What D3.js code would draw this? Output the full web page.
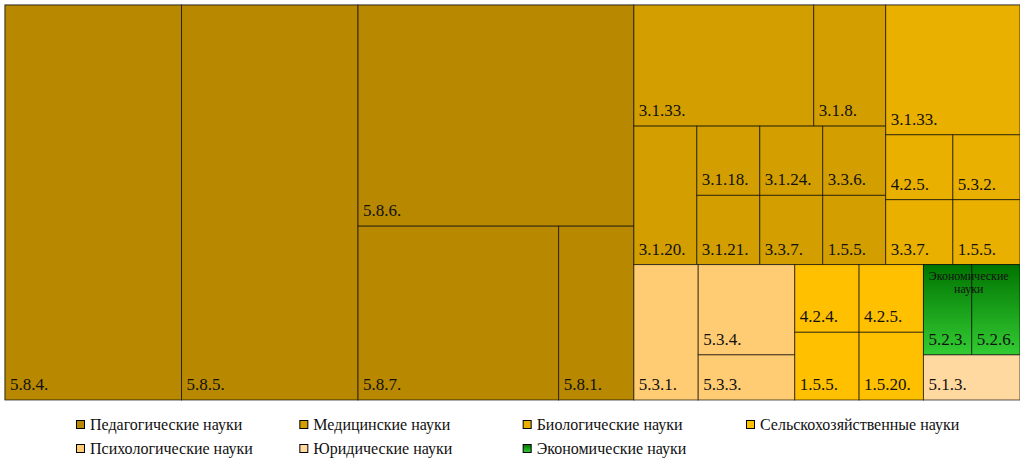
<!DOCTYPE html>
<html>
<head>
<meta charset="utf-8">
<script src="https://cdn.jsdelivr.net/npm/d3@7"></script>
<style>
  body { margin: 0; background: #fff; }
  svg { display: block; font-family: "Liberation Serif", "DejaVu Serif", serif; }
</style>
</head>
<body>
<div id="chart"></div>
<script>
const width = 1020;
const height = 459;

const margin = {
  top: 5,
  left: 5,
  right: 0,
  bottom: 59
};

// groups in legend order
const groups = [
  "Педагогические науки",
  "Медицинские науки",
  "Биологические науки",
  "Сельскохозяйственные науки",
  "Психологические науки",
  "Юридические науки",
  "Экономические науки"
];
const groupColors = ["#b78800", "#d39f00", "#e9b000", "#ffc000", "#ffcc73", "#ffd9a0", "url(#ecoGrad)"];

const pedCodes = ["5.8.4.", "5.8.5.", "5.8.6.", "5.8.7.", "5.8.1."];
const pedValues = [16, 16, 14, 8, 3];
const medCodes = ["3.1.33.", "3.1.8.", "3.1.20.", "3.1.18.", "3.1.21.", "3.1.24.", "3.3.6.", "3.3.7.", "1.5.5."];
const medValues = [5, 2, 2, 1, 1, 1, 1, 1, 1];
const bioCodes = ["3.1.33.", "4.2.5.", "3.3.7.", "5.3.2.", "1.5.5."];
const bioValues = [4, 1, 1, 1, 1];
const agroCodes = ["4.2.4.", "4.2.5.", "1.5.5.", "1.5.20."];
const agroValues = [1, 1, 1, 1];
const psyCodes = ["5.3.1.", "5.3.4.", "5.3.3."];
const psyValues = [2, 2, 1];
const lawCodes = ["5.1.3."];
const lawValues = [1];
const ecoCodes = ["5.2.3.", "5.2.6."];
const ecoValues = [1, 1];

const groupCodes = [pedCodes, medCodes, bioCodes, agroCodes, psyCodes, lawCodes, ecoCodes];
const groupValues = [pedValues, medValues, bioValues, agroValues, psyValues, lawValues, ecoValues];

// group headers that are shown over the cells
const headerGroups = ["Экономические науки"];

const data = {
  name: "root",
  children: groups.map((g, i) => ({
    name: g,
    color: groupColors[i],
    children: groupCodes[i].map((c, j) => ({ name: c, value: groupValues[i][j] }))
  }))
};

// squarify-like rows, aiming at cells a bit taller than wide (w/h ~ 0.8)
function tileAspect(rho) {
  const target = Math.log(rho);
  function score(items, sum, value, dx, dy, dice) {
    let worst = 0;
    const t = (dice ? dy : dx) * sum / value;
    items.forEach(n => {
      const len = (dice ? dx : dy) * n.value / sum;
      const w = dice ? len : t;
      const h = dice ? t : len;
      worst = Math.max(worst, Math.abs(Math.log(w / h) - target));
    });
    return worst;
  }
  return function(parent, x0, y0, x1, y1) {
    const nodes = parent.children;
    let value = parent.value;
    let i0 = 0;
    while (i0 < nodes.length) {
      const dx = x1 - x0, dy = y1 - y0;
      const dice = dx < dy;
      let best = Infinity, sum = 0, i1 = i0;
      for (let i = i0; i < nodes.length; i++) {
        const s = sum + nodes[i].value;
        const sc = score(nodes.slice(i0, i + 1), s, value, dx, dy, dice);
        if (sc > best) break;
        best = sc;
        sum = s;
        i1 = i + 1;
      }
      const row = { value: sum, children: nodes.slice(i0, i1) };
      if (dice) {
        const yk = i1 >= nodes.length ? y1 : y0 + dy * sum / value;
        d3.treemapDice(row, x0, y0, x1, yk);
        y0 = yk;
      } else {
        const xk = i1 >= nodes.length ? x1 : x0 + dx * sum / value;
        d3.treemapSlice(row, x0, y0, xk, y1);
        x0 = xk;
      }
      value -= sum;
      i0 = i1;
    }
  };
}

const root = d3.hierarchy(data)
  .sum(d => d.value || 0)
  .sort((a, b) => b.value - a.value);

d3.treemap()
  .tile(tileAspect(0.8))
  .size([width - margin.left - margin.right, height - margin.top - margin.bottom])(root);

const svg = d3.select("#chart")
  .append("svg")
  .attr("width", width)
  .attr("height", height);

const defs = svg.append("defs");
const grad = defs.append("linearGradient")
  .attr("id", "ecoGrad")
  .attr("x1", 0).attr("y1", 0)
  .attr("x2", 0).attr("y2", 1);
grad.append("stop").attr("offset", "0%").attr("stop-color", "#007400");
grad.append("stop").attr("offset", "100%").attr("stop-color", "#33cc33");

// thin frame on the left / top
svg.append("path")
  .attr("d", `M${margin.left - 0.5},${height - margin.bottom}V${margin.top - 0.5}H${width}`)
  .attr("fill", "none")
  .attr("stroke", "#c8c8c8");

const g = svg.append("g")
  .attr("transform", `translate(${margin.left},${margin.top})`);

const leaves = g.selectAll("g.leaf")
  .data(root.leaves())
  .join("g")
  .attr("class", "leaf");

leaves.append("rect")
  .attr("x", d => d.x0)
  .attr("y", d => d.y0)
  .attr("width", d => d.x1 - d.x0)
  .attr("height", d => d.y1 - d.y0)
  .attr("fill", d => d.parent.data.color)
  .attr("stroke", "#000")
  .attr("stroke-opacity", 0.65)
  .attr("stroke-width", 1);

leaves.append("text")
  .attr("x", d => d.x0 + 5)
  .attr("y", d => d.y1 - 10)
  .attr("font-size", 17)
  .attr("fill", "#111")
  .text(d => d.data.name);

// headers
const heads = g.selectAll("text.header")
  .data(root.children.filter(d => headerGroups.includes(d.data.name)))
  .join("text")
  .attr("class", "header")
  .attr("x", d => (d.x0 + d.x1) / 2 - 3)
  .attr("y", d => d.y0 + 15)
  .attr("text-anchor", "middle")
  .attr("font-size", 12)
  .attr("fill", "#111");

heads.selectAll("tspan")
  .data(d => d.data.name.split(" ").map(w => ({ w, x: (d.x0 + d.x1) / 2 - 3 })))
  .join("tspan")
  .attr("x", d => d.x)
  .attr("dy", (d, i) => i ? 13 : 0)
  .text(d => d.w);

// legend
const legendX = d3.scalePoint().domain([0, 1, 2, 3]).range([76, 746]);
const legendY = d3.scalePoint().domain([0, 1]).range([420, 444]);

const legend = svg.append("g")
  .selectAll("g")
  .data(groups)
  .join("g")
  .attr("transform", (d, i) => `translate(${legendX(i % 4)},${legendY(Math.floor(i / 4))})`);

legend.append("rect")
  .attr("x", 0.5)
  .attr("y", 0.5)
  .attr("width", 8)
  .attr("height", 8)
  .attr("fill", (d, i) => groupColors[i])
  .attr("stroke", "#000");

legend.append("text")
  .attr("x", 14)
  .attr("y", 10)
  .attr("font-size", 16)
  .attr("fill", "#111")
  .text(d => d);
</script>
</body>
</html>
